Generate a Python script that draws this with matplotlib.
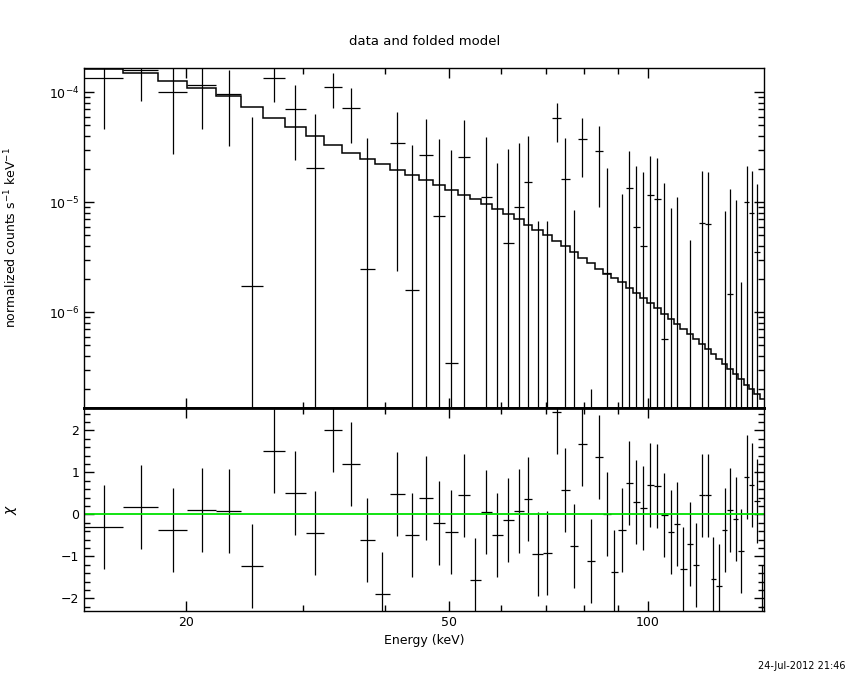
import numpy as np
import matplotlib
matplotlib.use("Agg")
from matplotlib import pyplot as plt
from matplotlib.ticker import FixedLocator, FixedFormatter, NullFormatter

# bin edges (keV)
edges = [14.0, 16.06, 18.09, 20.08, 22.16, 24.18, 26.16, 28.18, 30.33, 32.27,
         34.47, 36.58, 38.55, 40.62, 42.80, 44.94, 47.19, 49.20, 51.49, 53.69,
         55.78, 57.96, 60.22, 62.58, 64.80, 66.85, 69.23, 71.57, 73.85, 76.07,
         78.35, 80.71, 82.99, 85.34, 87.75, 90.08, 92.46, 94.75, 97.09, 99.48,
         101.94, 104.46, 107.04, 109.31, 111.82, 114.38, 116.80, 119.28, 121.80, 124.38,
         126.79, 129.48, 131.76, 134.55, 136.92, 139.74, 142.21, 144.72, 147.79, 150.0]

# data (normalized counts s^-1 keV^-1)
rate = [1.34e-4, 1.58e-4, 1.01e-4, 1.165e-4, 9.66e-5, 1.73e-6, 1.34e-4, 7.0e-5, 2.04e-5, 1.11e-4,
        7.15e-5, 2.46e-6, -4.06e-5, 3.44e-5, 1.58e-6, 2.67e-5, 7.5e-6, 3.44e-7, 2.56e-5, -3.49e-5,
        1.11e-5, -4.1e-6, 4.24e-6, 9.06e-6, 1.52e-5, -1.72e-5, -1.78e-5, 5.81e-5, 1.63e-5, -1.22e-5,
        3.74e-5, -2.18e-5, 2.92e-5, 2.3e-6, -2.18e-5, -4.3e-6, 1.35e-5, 5.93e-6, 3.98e-6, 1.16e-5,
        1.06e-5, 5.7e-7, -5.24e-6, -2.53e-6, -1.67e-5, -8.7e-6, -1.52e-5, 6.44e-6, 6.35e-6, -1.90e-5,
        -2.10e-5, -4.2e-6, 1.48e-6, -1.12e-6, -9.73e-6, 1.0e-5, 7.94e-6, 3.51e-6, -2.40e-5]
rate_err = [8.8e-5, 7.5e-5, 7.35e-5, 7.0e-5, 6.4e-5, 5.76e-5, 5.2e-5, 4.6e-5, 4.31e-5, 3.97e-5,
            3.7e-5, 3.57e-5, 3.3e-5, 3.2e-5, 3.16e-5, 3.0e-5, 3.0e-5, 2.96e-5, 3.0e-5, 2.9e-5,
            2.82e-5, 2.68e-5, 2.63e-5, 2.55e-5, 2.49e-5, 2.4e-5, 2.46e-5, 2.25e-5, 2.2e-5, 2.07e-5,
            2.03e-5, 2.2e-5, 2.02e-5, 1.84e-5, 1.75e-5, 1.62e-5, 1.6e-5, 1.55e-5, 1.48e-5, 1.48e-5,
            1.47e-5, 1.44e-5, 1.42e-5, 1.38e-5, 1.35e-5, 1.32e-5, 1.3e-5, 1.28e-5, 1.25e-5, 1.25e-5,
            1.25e-5, 1.26e-5, 1.18e-5, 1.16e-5, 1.16e-5, 1.14e-5, 1.14e-5, 1.12e-5, 1.1e-5]

# folded model
model = [1.62e-4, 1.49e-4, 1.27e-4, 1.10e-4, 9.31e-5, 7.35e-5, 5.84e-5, 4.80e-5, 3.98e-5, 3.30e-5,
         2.82e-5, 2.49e-5, 2.21e-5, 1.97e-5, 1.77e-5, 1.61e-5, 1.43e-5, 1.29e-5, 1.17e-5, 1.06e-5,
         9.66e-6, 8.75e-6, 7.83e-6, 7.0e-6, 6.26e-6, 5.64e-6, 5.04e-6, 4.45e-6, 3.98e-6, 3.53e-6,
         3.13e-6, 2.79e-6, 2.48e-6, 2.21e-6, 2.04e-6, 1.87e-6, 1.66e-6, 1.50e-6, 1.34e-6, 1.21e-6,
         1.09e-6, 9.65e-7, 8.64e-7, 7.78e-7, 7.06e-7, 6.35e-7, 5.68e-7, 5.12e-7, 4.61e-7, 4.15e-7,
         3.74e-7, 3.37e-7, 3.03e-7, 2.73e-7, 2.46e-7, 2.21e-7, 2.0e-7, 1.80e-7, 1.62e-7]

# residuals (delta chi)
chi = [-0.31, 0.17, -0.36, 0.10, 0.07, -1.24, 1.50, 0.50, -0.45, 2.02,
       1.21, -0.62, -1.90, 0.48, -0.50, 0.38, -0.21, -0.43, 0.45, -1.57,
       0.05, -0.48, -0.14, 0.07, 0.36, -0.95, -0.93, 2.44, 0.57, -0.76,
       1.67, -1.12, 1.36, 0.0, -1.36, -0.38, 0.74, 0.29, 0.16, 0.71,
       0.67, -0.02, -0.43, -0.24, -1.29, -0.71, -1.21, 0.45, 0.45, -1.55,
       -1.71, -0.36, 0.10, -0.12, -0.86, 0.88, 0.69, 0.31, -2.2]

e = np.array(edges)
lo, hi = e[:-1], e[1:]
cen = 0.5 * (lo + hi)
r = np.array(rate)
re = np.array(rate_err)

plt.rcParams['font.family'] = 'DejaVu Sans'
fig = plt.figure(figsize=(8.5, 6.8), dpi=100)
ax1 = fig.add_axes([0.0988, 0.4004, 0.8004, 0.4992])
ax2 = fig.add_axes([0.0988, 0.1015, 0.8004, 0.2989], sharex=ax1)

lw = 0.9
# top panel : model histogram + data crosses
ax1.stairs(model, edges, color='k', lw=1.1, baseline=None)
tiny = 1e-9
vis = r > 0
ax1.hlines(r[vis], lo[vis], hi[vis], color='k', lw=lw)
top = r + re
vt = top > 0
ax1.vlines(cen[vt], np.maximum(r - re, tiny)[vt], top[vt], color='k', lw=lw)
ax1.set_xscale('log')
ax1.set_yscale('log')
ax1.set_xlim(14, 150)
ax1.set_ylim(1.36e-7, 1.65e-4)
ax1.yaxis.set_major_locator(FixedLocator([1e-4, 1e-5, 1e-6]))
ax1.yaxis.set_major_formatter(FixedFormatter(['10$^{-4}$', '10$^{-5}$', '10$^{-6}$']))
ax1.yaxis.set_minor_locator(FixedLocator([k * 10.0**p for p in range(-7, -3) for k in range(2, 10)]))
ax1.yaxis.set_minor_formatter(NullFormatter())
ax1.set_ylabel('normalized counts s$^{-1}$ keV$^{-1}$', fontsize=9)
ax1.set_title('data and folded model', fontsize=9.5, pad=17)
plt.setp(ax1.get_xticklabels(which='both'), visible=False)

# bottom panel : residuals
ax2.errorbar(cen, chi, xerr=[cen - lo, hi - cen], yerr=1.0, fmt='none',
             ecolor='k', elinewidth=lw, capsize=0)
ax2.axhline(0, color='#00e000', lw=1.3)
ax2.set_ylim(-2.30, 2.54)
ax2.yaxis.set_major_locator(FixedLocator([-2, -1, 0, 1, 2]))
ax2.yaxis.set_minor_locator(FixedLocator(np.arange(-2.2, 2.6, 0.2)))
ax2.set_ylabel('$\\chi$', fontsize=10)
ax2.set_xlabel('Energy (keV)', fontsize=9)
ax2.xaxis.set_major_locator(FixedLocator([20, 50, 100]))
ax2.xaxis.set_major_formatter(FixedFormatter(['20', '50', '100']))
ax2.xaxis.set_minor_locator(FixedLocator([30, 40, 60, 70, 80, 90]))
ax2.xaxis.set_minor_formatter(NullFormatter())

for ax in (ax1, ax2):
    ax.tick_params(which='both', direction='in', top=True, right=True, labelsize=9, width=1)
    ax.tick_params(which='major', length=7)
    ax.tick_params(which='minor', length=4)
    for s in ax.spines.values():
        s.set_linewidth(1.0)
ax1.spines['bottom'].set_linewidth(2.0)
ax2.spines['top'].set_linewidth(2.0)
ax1.yaxis.set_label_coords(-0.095, 0.5)
ax2.yaxis.set_label_coords(-0.095, 0.5)

fig.text(0.995, 0.013, '24-Jul-2012 21:46', ha='right', va='bottom', fontsize=7)

fig.savefig('out.png', dpi=100)
